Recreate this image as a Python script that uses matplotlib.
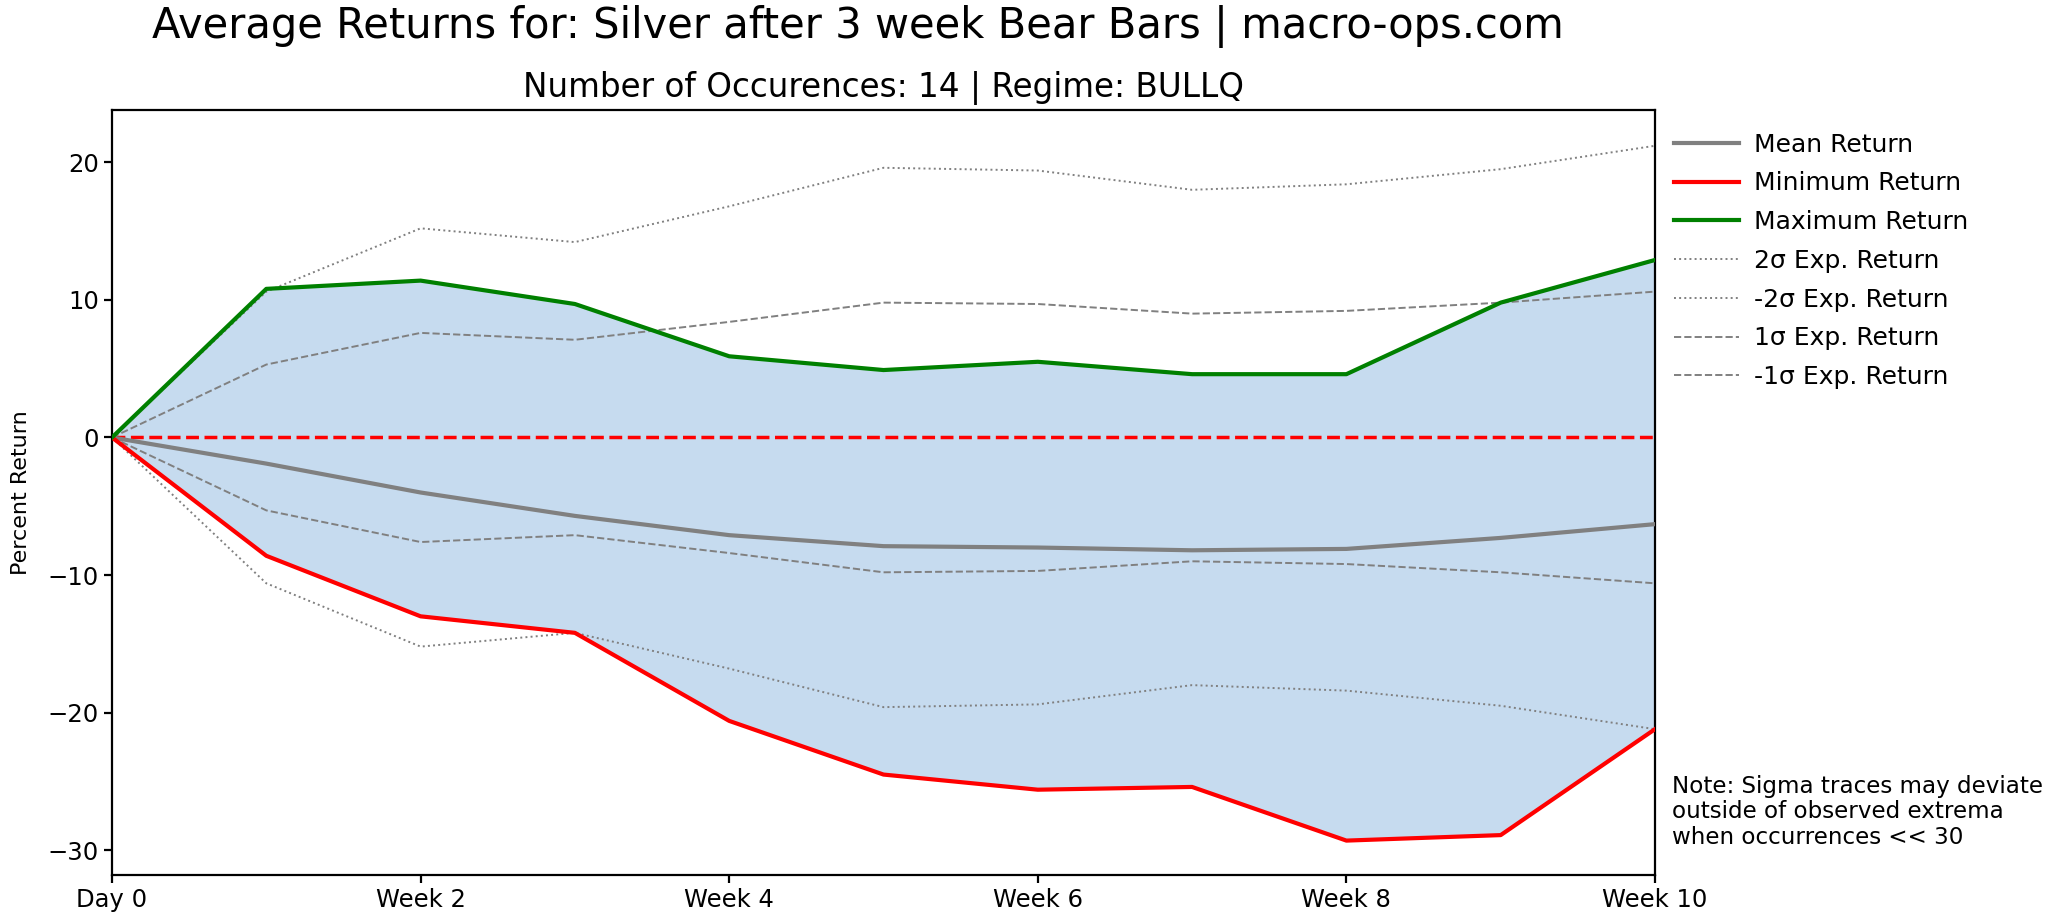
import matplotlib
matplotlib.use("Agg")
import matplotlib.pyplot as plt
import numpy as np

weeks = [0, 1, 2, 3, 4, 5, 6, 7, 8, 9, 10]
tick_pos = [0, 2, 4, 6, 8, 10]
tick_labels = ["Day 0", "Week 2", "Week 4", "Week 6", "Week 8", "Week 10"]

mean_ret = [0, -1.9, -4.0, -5.7, -7.1, -7.9, -8.0, -8.2, -8.1, -7.3, -6.3]
min_ret = [0, -8.6, -13.0, -14.2, -20.6, -24.5, -25.6, -25.4, -29.3, -28.9, -21.2]
max_ret = [0, 10.8, 11.4, 9.7, 5.9, 4.9, 5.5, 4.6, 4.6, 9.8, 12.9]
sig1 = [0, 5.3, 7.6, 7.1, 8.4, 9.8, 9.7, 9.0, 9.2, 9.8, 10.6]
sig2 = [0, 10.6, 15.2, 14.2, 16.8, 19.6, 19.4, 18.0, 18.4, 19.5, 21.2]

title = "Average Returns for: Silver after 3 week Bear Bars | macro-ops.com"
subtitle = "Number of Occurences: 14 | Regime: BULLQ"
note = "Note: Sigma traces may deviate\noutside of observed extrema\nwhen occurrences << 30"

fig = plt.figure(figsize=(20.48, 9.23), dpi=100)
L, R, T, B = 112, 1655, 110, 875
ax = fig.add_axes([L/2048, 1-B/923, (R-L)/2048, (B-T)/923])

x = np.array(weeks)
ax.fill_between(x, min_ret, max_ret, color="#c6dbef", linewidth=0, zorder=1)
ax.plot(x, mean_ret, color="grey", lw=3.0, label="Mean Return", zorder=4)
ax.plot(x, min_ret, color="red", lw=3.0, label="Minimum Return", zorder=4)
ax.plot(x, max_ret, color="green", lw=3.0, label="Maximum Return", zorder=4)
ax.plot(x, sig2, color="grey", lw=1.4, ls=":", label="2σ Exp. Return", zorder=3)
ax.plot(x, [-v for v in sig2], color="grey", lw=1.4, ls=":", label="-2σ Exp. Return", zorder=3)
ax.plot(x, sig1, color="grey", lw=1.4, ls="--", label="1σ Exp. Return", zorder=3)
ax.plot(x, [-v for v in sig1], color="grey", lw=1.4, ls="--", label="-1σ Exp. Return", zorder=3)
ax.axhline(0, color="red", ls="--", lw=2.5, zorder=2)

ax.set_xlim(0, 10)
ax.set_ylim(-31.8, 23.8)
ax.set_xticks(tick_pos)
ax.set_xticklabels(tick_labels)
ax.set_yticks([-30, -20, -10, 0, 10, 20])
ax.tick_params(labelsize=17.5, width=1.6, length=6)
for s in ax.spines.values():
    s.set_linewidth(1.6)
ax.set_ylabel("Percent Return", fontsize=16, labelpad=12)

leg = ax.legend(loc="upper left", bbox_to_anchor=(0.998, 1.0), frameon=False,
                fontsize=18, handlelength=2.6, labelspacing=0.59, handletextpad=0.6)

fig.text(858/2048, 1-26/923, title, ha="center", va="center", fontsize=30)
fig.text((L+R)/2/2048, 1-88/923, subtitle, ha="center", va="center", fontsize=23.5)
fig.text(1672/2048, 1-812/923, note, ha="left", va="center", fontsize=16.6, linespacing=1.12)

fig.savefig("out.png", dpi=100)
